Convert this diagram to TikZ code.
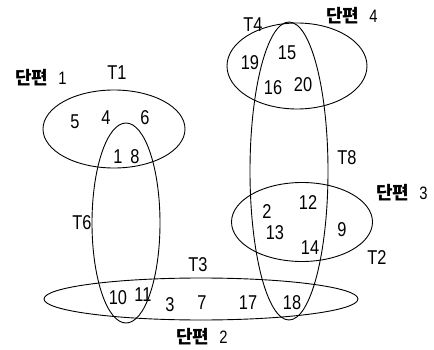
\documentclass[tikz,border=0pt]{standalone}
\usepackage{fontspec}
\setmainfont{Liberation Sans}[FakeStretch=0.82]
\newfontfamily\kofont{Noto Sans CJK KR}
\usetikzlibrary{shapes.geometric}
\begin{document}
\begin{tikzpicture}[x=1pt,y=-1pt,
  ell/.style={draw, ellipse, line width=0.9pt, inner sep=0pt},
  num/.style={font=\fontsize{20}{20}\selectfont, inner sep=0pt},
  ko/.style={font=\fontsize{18}{18}\selectfont\kofont\bfseries, inner sep=0pt}]
\useasboundingbox (0,0) rectangle (434,350);
% ellipses
\node[ell, minimum width=142pt, minimum height=78pt] (e1) at (114,129) {};
\node[ell, minimum width=68pt, minimum height=200pt] (e6) at (126,223) {};
\node[ell, minimum width=140pt, minimum height=86pt] (e4) at (297,66) {};
\node[ell, minimum width=78pt, minimum height=298pt] (e8) at (289,171) {};
\node[ell, minimum width=141pt, minimum height=79pt] (e2) at (302,222) {};
\node[ell, minimum width=314pt, minimum height=42pt] (e3) at (201,299) {};
% fragment labels
\node[ko] (k1) at (41,78) {단편\hspace{10pt}\mdseries\rmfamily 1};
\node[ko] (k4) at (352,16) {단편\hspace{10pt}\mdseries\rmfamily 4};
\node[ko] (k3) at (402,193) {단편\hspace{10pt}\mdseries\rmfamily 3};
\node[ko] (k2) at (202,337) {단편\hspace{10pt}\mdseries\rmfamily 2};
% T labels
\node[num] (t1) at (117,73) {T1};
\node[num] (t4) at (253,25) {T4};
\node[num] (t8) at (347,158) {T8};
\node[num] (t2) at (377,258) {T2};
\node[num] (t6) at (82,223) {T6};
\node[num] (t3) at (198,265) {T3};
% numbers
\node[num] (n5) at (75,122) {5};
\node[num] (n4) at (106,118) {4};
\node[num] (n6) at (145,118) {6};
\node[num] (n1) at (118,157) {1};
\node[num] (n8) at (135,157) {8};
\node[num] (n19) at (250,63) {19};
\node[num] (n15) at (287,53) {15};
\node[num] (n16) at (273,88) {16};
\node[num] (n20) at (303,85) {20};
\node[num] (n2) at (267,212) {2};
\node[num] (n12) at (308,203) {12};
\node[num] (n13) at (275,233) {13};
\node[num] (n9) at (342,230) {9};
\node[num] (n14) at (310,248) {14};
\node[num] (n10) at (118,298) {10};
\node[num] (n11) at (143,295) {11};
\node[num] (n3) at (170,305) {3};
\node[num] (n7) at (202,303) {7};
\node[num] (n17) at (248,303) {17};
\node[num] (n18) at (292,303) {18};
\end{tikzpicture}
\end{document}
